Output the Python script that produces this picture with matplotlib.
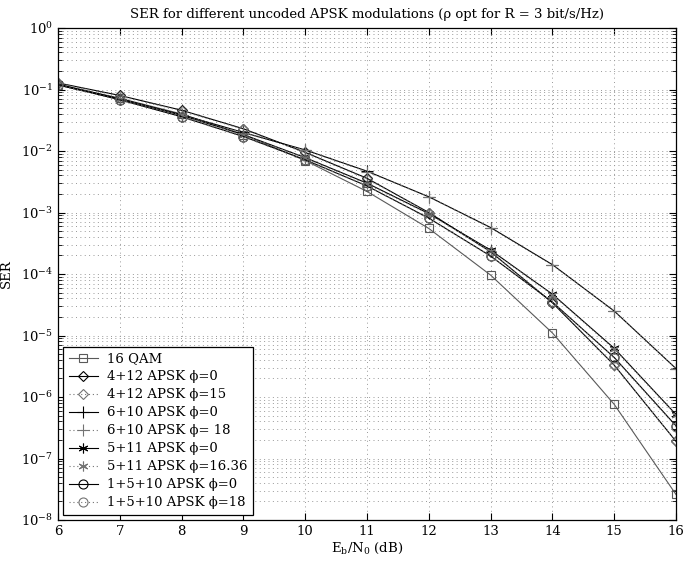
import matplotlib
matplotlib.use("Agg")
import matplotlib.pyplot as plt
from matplotlib.ticker import LogLocator, LogFormatterMathtext, NullFormatter

plt.rcParams['font.family'] = ['DejaVu Serif']
plt.rcParams['mathtext.fontset'] = 'dejavuserif'

ebn0 = [6, 7, 8, 9, 10, 11, 12, 13, 14, 15, 16]

qam16 = [0.120, 0.072, 0.040, 0.0185, 0.0070, 0.0022, 5.5e-4, 9.6e-5, 1.1e-5, 7.6e-7, 2.6e-8]
apsk412_0 = [0.128, 0.080, 0.046, 0.0230, 0.0095, 0.0036, 1.0e-3, 2.3e-4, 3.4e-5, 3.3e-6, 1.9e-7]
apsk412_15 = [0.126, 0.078, 0.045, 0.0225, 0.0093, 0.0035, 1.0e-3, 2.25e-4, 3.5e-5, 3.3e-6, 1.9e-7]
apsk610_0 = [0.118, 0.070, 0.039, 0.0200, 0.0104, 0.0047, 1.8e-3, 5.7e-4, 1.42e-4, 2.5e-5, 2.9e-6]
apsk610_18 = [0.117, 0.069, 0.0385, 0.0198, 0.0103, 0.0046, 1.8e-3, 5.6e-4, 1.4e-4, 2.5e-5, 2.9e-6]
apsk511_0 = [0.122, 0.071, 0.038, 0.0185, 0.0078, 0.0030, 9.6e-4, 2.45e-4, 4.7e-5, 6.2e-6, 5.2e-7]
apsk511_1636 = [0.121, 0.070, 0.0378, 0.0183, 0.0077, 0.0029, 9.4e-4, 2.4e-4, 4.6e-5, 6.0e-6, 5.1e-7]
apsk1510_0 = [0.120, 0.068, 0.036, 0.0172, 0.0072, 0.0027, 8.1e-4, 1.96e-4, 3.5e-5, 4.4e-6, 3.4e-7]
apsk1510_18 = [0.119, 0.0675, 0.0357, 0.0170, 0.0071, 0.0027, 8.0e-4, 1.95e-4, 3.5e-5, 4.3e-6, 3.3e-7]

labels = ['16 QAM', '4+12 APSK ϕ=0', '4+12 APSK ϕ=15', '6+10 APSK ϕ=0', '6+10 APSK ϕ= 18',
          '5+11 APSK ϕ=0', '5+11 APSK ϕ=16.36', '1+5+10 APSK ϕ=0', '1+5+10 APSK ϕ=18']

series = [qam16, apsk412_0, apsk412_15, apsk610_0, apsk610_18,
          apsk511_0, apsk511_1636, apsk1510_0, apsk1510_18]
markers = ['s', 'D', 'D', '+', '+', (6, 2, 0), (6, 2, 0), 'o', 'o']
styles = ['-', '-', (0, (1, 2.5)), '-', (0, (1, 2.5)), '-', (0, (1, 2.5)), '-', (0, (1, 2.5))]
colors = ['0.35', 'k', '0.45', 'k', '0.45', 'k', '0.45', 'k', '0.45']
msizes = [6, 5.5, 5.5, 8, 8, 7, 7, 6.5, 6.5]

fig = plt.figure(figsize=(6.84, 5.63), dpi=100)
ax = fig.add_axes([58/684, 1 - 520/563, (676-58)/684, (520-28)/563])

for y, lab, m, ls, c, ms in zip(series, labels, markers, styles, colors, msizes):
    ax.semilogy(ebn0, y, linestyle=ls, color=c, marker=m, markersize=ms,
                markerfacecolor='none', markeredgecolor=c, linewidth=0.8,
                markeredgewidth=0.8, label=lab)

ax.set_xlim(6, 16)
ax.set_ylim(1e-8, 1)
ax.set_xticks(range(6, 17))
ax.yaxis.set_major_locator(LogLocator(base=10, numticks=20))
ax.yaxis.set_minor_locator(LogLocator(base=10, subs=range(2, 10), numticks=20))
ax.yaxis.set_major_formatter(LogFormatterMathtext())
ax.yaxis.set_minor_formatter(NullFormatter())

gridstyle = dict(linestyle=(0, (1, 3.5)), color='0.6', linewidth=0.7)
ax.grid(True, which='major', axis='both', **gridstyle)
ax.grid(True, which='minor', axis='y', **gridstyle)
ax.tick_params(which='both', direction='in', top=True, right=True, labelsize=9.5)
ax.tick_params(which='major', length=5)
ax.tick_params(which='minor', length=3)
for s in ax.spines.values():
    s.set_linewidth(0.9)

ax.set_title('SER for different uncoded APSK modulations (ρ opt for R = 3 bit/s/Hz)', fontsize=9.5, pad=7)
ax.set_xlabel(r'E$_\mathregular{b}$/N$_\mathregular{0}$ (dB)', fontsize=9.5, labelpad=2)
ax.set_ylabel('SER', fontsize=9.5, labelpad=6)

leg = ax.legend(loc='lower left', fontsize=9.5, frameon=True, fancybox=False,
                edgecolor='k', framealpha=1, handlelength=2.2, labelspacing=0.38,
                borderaxespad=0.4, borderpad=0.4, handletextpad=0.7)
leg.get_frame().set_linewidth(0.9)

fig.savefig('out.png', dpi=100)
